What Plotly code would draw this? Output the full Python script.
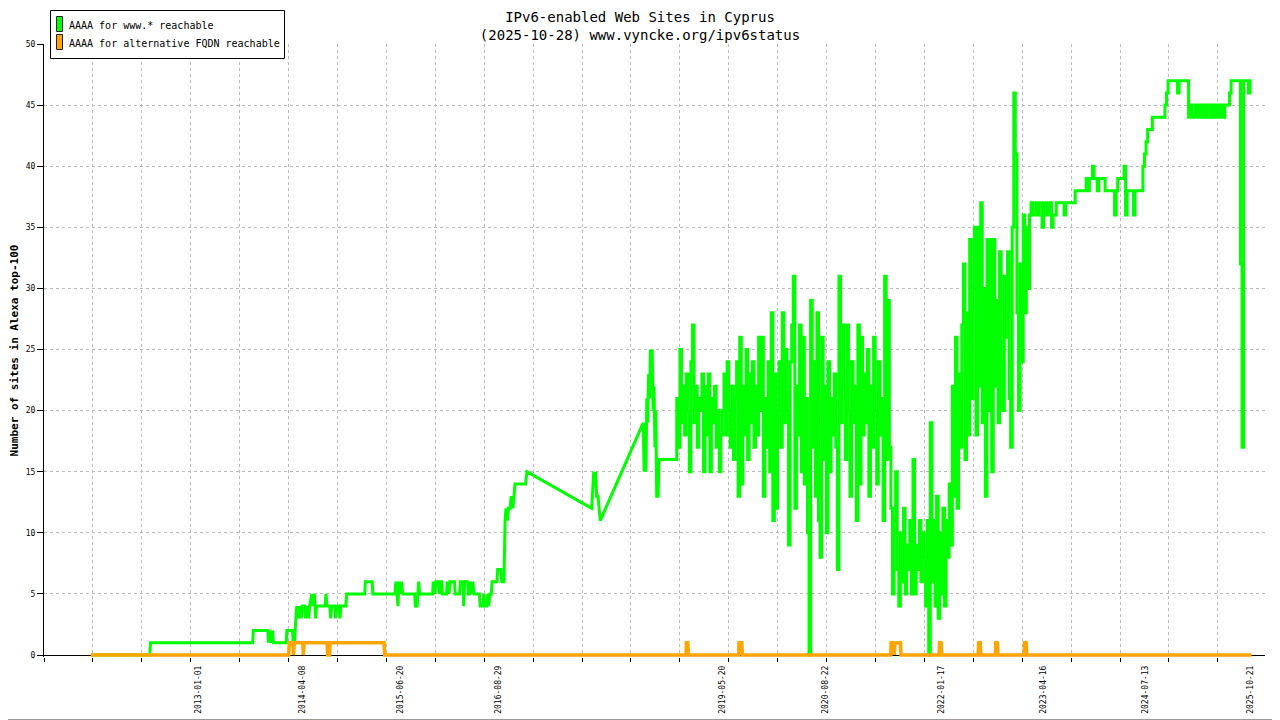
import pandas as pd
import plotly.graph_objects as go

# ---------------- data ----------------
title_line1 = "IPv6-enabled Web Sites in Cyprus"
title_line2 = "(2025-10-28) www.vyncke.org/ipv6status"
y_title = "Number of sites in Alexa top-100"
series_names = ["AAAA for www.* reachable", "AAAA for alternative FQDN reachable"]

x_label_dates = ["2013-01-01", "2014-04-08", "2015-06-20", "2016-08-29", "2019-05-20",
                 "2020-08-22", "2022-01-17", "2023-04-16", "2024-07-13", "2025-10-21"]
y_ticks = [0, 5, 10, 15, 20, 25, 30, 35, 40, 45, 50]

# www.* series, early irregular samples
www_early_dates = [
    "2011-09-13", "2012-06-01", "2012-06-04", "2013-09-01", "2013-09-04", "2013-11-08",
    "2013-11-10", "2013-11-17", "2013-11-21", "2013-11-28", "2013-12-03", "2014-01-28",
    "2014-01-31", "2014-02-25", "2014-02-28", "2014-03-06", "2014-03-12", "2014-03-16",
    "2014-03-22", "2014-03-28", "2014-04-05", "2014-04-10", "2014-04-20", "2014-04-24",
    "2014-04-30", "2014-05-08", "2014-05-12", "2014-05-22", "2014-05-28", "2014-06-02",
    "2014-06-08", "2014-06-12", "2014-07-20", "2014-07-24", "2014-07-28", "2014-08-10",
    "2014-08-14", "2014-08-18", "2014-09-01", "2014-09-05", "2014-09-10", "2014-09-20",
    "2014-09-24", "2014-09-28", "2014-10-20", "2014-10-24", "2015-01-12", "2015-01-15",
    "2015-02-14", "2015-02-17", "2015-05-27", "2015-05-30", "2015-06-05", "2015-06-09",
    "2015-06-13", "2015-06-20", "2015-06-24", "2015-06-30", "2015-08-22", "2015-08-25",
    "2015-09-02", "2015-09-05", "2015-09-09", "2015-09-13", "2015-11-10", "2015-11-13",
    "2015-11-20", "2015-11-24", "2015-12-05", "2015-12-09", "2015-12-13", "2015-12-20",
    "2015-12-23", "2016-01-11", "2016-01-14", "2016-01-22", "2016-01-26", "2016-02-15",
    "2016-02-18", "2016-03-09", "2016-03-12", "2016-03-24", "2016-03-27", "2016-03-31",
    "2016-04-14", "2016-04-17", "2016-04-24", "2016-04-26", "2016-05-02", "2016-05-06",
    "2016-05-12", "2016-06-05", "2016-06-08", "2016-06-20", "2016-06-24", "2016-06-28",
    "2016-07-08", "2016-07-12", "2016-07-16", "2016-07-22", "2016-07-28", "2016-07-31",
    "2016-08-22", "2016-08-25", "2016-09-08", "2016-09-12", "2016-09-22", "2016-09-27",
    "2016-10-01", "2016-10-08", "2016-10-12", "2016-10-20", "2016-10-24", "2016-11-01",
    "2016-11-05", "2016-11-10", "2016-12-27", "2017-01-02", "2017-10-17", "2017-10-22",
    "2017-10-26", "2017-10-30", "2017-11-03", "2017-11-08", "2017-11-14", "2017-11-24",
    "2018-06-03", "2018-06-07", "2018-06-11", "2018-06-15", "2018-06-19", "2018-06-23",
    "2018-06-27", "2018-07-01", "2018-07-05", "2018-07-09", "2018-07-13", "2018-07-17",
    "2018-07-21", "2018-07-25", "2018-07-29", "2018-08-02", "2018-08-08", "2018-08-12",
    "2018-10-26"]
www_early_values = [
    0, 0, 1, 1, 2, 2,
    1, 2, 1, 2, 1, 1,
    2, 2, 1, 1, 3, 4,
    3, 4, 3, 4, 4, 3,
    4, 3, 4, 5, 4, 5,
    3, 4, 4, 5, 4, 4,
    3, 4, 4, 3, 4, 4,
    3, 4, 4, 5, 5, 6,
    6, 5, 5, 6, 5, 4,
    6, 5, 6, 5, 5, 4,
    4, 5, 6, 5, 5, 6,
    5, 6, 6, 5, 6, 6,
    5, 5, 6, 5, 6, 6,
    5, 5, 6, 6, 4, 6,
    6, 5, 5, 6, 5, 6,
    5, 5, 4, 4, 5, 4,
    4, 5, 4, 5, 5, 6,
    6, 7, 7, 6, 6, 11,
    12, 11, 12, 12, 13, 12,
    13, 14, 14, 15, 12, 14,
    15, 14, 15, 13, 13, 11,
    19, 15, 19, 15, 21, 19,
    23, 21, 25, 22, 25, 20,
    22, 17, 20, 13, 13, 16,
    16]

# www.* series, weekly samples from 2018-10-30 to 2025-10-28
www_weekly_start = "2018-10-30"
www_weekly_values = [
    21, 17, 25, 19, 22, 18, 23, 20, 15, 24,
    27, 19, 22, 17, 21, 20, 23, 15, 22, 18,
    23, 15, 21, 19, 22, 17, 20, 15, 18, 20,
    23, 18, 24, 20, 17, 22, 16, 21, 24, 13,
    26, 14, 22, 18, 25, 16, 23, 19, 24, 17,
    22, 18, 26, 20, 26, 13, 21, 17, 24, 15,
    28, 11, 23, 12, 20, 24, 17, 28, 19, 25,
    20, 9, 24, 27, 31, 12, 22, 18, 27, 15,
    26, 14, 21, 10, 0, 29, 17, 24, 13, 28,
    11, 8, 26, 16, 22, 10, 24, 15, 21, 18,
    23, 17, 7, 31, 19, 27, 22, 16, 27, 20,
    13, 24, 19, 22, 11, 27, 14, 26, 18, 23,
    19, 25, 13, 22, 17, 26, 20, 14, 24, 18,
    21, 11, 31, 16, 29, 17, 12, 5, 11, 15,
    7, 4, 10, 6, 12, 5, 9, 7, 11, 5,
    16, 5, 9, 7, 11, 6, 10, 8, 4, 11,
    0, 19, 6, 11, 4, 13, 3, 10, 5, 12,
    4, 11, 8, 14, 9, 22, 13, 26, 12, 23,
    17, 27, 32, 16, 28, 18, 34, 21, 30, 35,
    18, 35, 22, 37, 19, 30, 13, 34, 20, 34,
    15, 34, 22, 29, 19, 33, 24, 20, 31, 26,
    33, 21, 17, 35, 46, 41, 28, 20, 32, 24,
    36, 28, 35, 30, 36, 37, 36, 36, 37, 36,
    37, 37, 35, 37, 37, 36, 37, 37, 35,
    36, 36, 37, 37, 37, 37,
    37, 36, 37, 37, 37,
    37, 37, 37, 38, 38,
    38, 38, 38, 38, 38,
    39, 38, 39, 39, 40,
    39, 39, 38, 39, 39,
    39, 39, 38, 38, 38,
    38, 38, 38, 36, 38,
    39, 39, 39, 39, 40,
    36, 38, 38, 38, 38,
    36, 38, 38, 38, 38,
    38, 40, 41, 42, 43,
    43, 43, 44, 44, 44,
    44, 44, 44, 44, 44,
    45, 46, 47, 47, 47,
    47, 47, 47, 46, 47,
    47, 47, 47, 47, 47,
    44, 45, 44, 44, 45,
    44, 45, 44, 45, 44,
    45, 44, 45, 45, 44,
    45, 44, 45, 44, 45,
    44, 45, 44, 45, 45,
    45, 46, 47, 47, 47,
    47, 47, 47, 32, 17,
    47, 47, 47, 46, 47, 47]

# alternative FQDN series
alt_dates = [
    "2011-09-13", "2014-02-08", "2014-02-11", "2014-02-27", "2014-03-01", "2014-03-05",
    "2014-04-12", "2014-04-14", "2014-04-18", "2014-07-29", "2014-07-31", "2014-08-09",
    "2014-08-11", "2015-04-08", "2015-04-11", "2018-12-10", "2018-12-12", "2018-12-18",
    "2018-12-21", "2019-08-01", "2019-08-03", "2019-08-15", "2019-08-18", "2021-06-07",
    "2021-06-09", "2021-06-20", "2021-06-23", "2021-06-26", "2021-07-20", "2021-07-23",
    "2022-01-08", "2022-01-10", "2022-01-17", "2022-01-20", "2022-07-01", "2022-07-03",
    "2022-07-10", "2022-07-13", "2022-09-15", "2022-09-17", "2022-09-24", "2022-09-27",
    "2023-01-21", "2023-01-23", "2023-01-30", "2023-02-02", "2025-10-28"]
alt_values = [
    0, 0, 1, 1, 0, 1,
    1, 0, 1, 1, 0, 0,
    1, 1, 0, 0, 1, 1,
    0, 0, 1, 1, 0, 0,
    1, 1, 0, 1, 1, 0,
    0, 1, 1, 0, 0, 1,
    1, 0, 0, 1, 1, 0,
    0, 1, 1, 0, 0]

# ---------------- build ----------------
weekly_dates = pd.date_range(www_weekly_start, periods=len(www_weekly_values), freq="7D")
early_x = pd.to_datetime(www_early_dates)
weekly_x = [early_x[-1]] + list(weekly_dates)
weekly_y = [www_early_values[-1]] + www_weekly_values
alt_x = pd.to_datetime(alt_dates)

GREEN = "#00ff00"
ORANGE = "#ffa500"
MONO = "DejaVu Sans Mono"
x_range = ["2011-02-16 12:00", "2025-12-26 18:00"]
grid_step_ms = 217.4 * 86400000

# layout geometry (pixels); the page shows the figure offset by the body margin
OFF = 8
W, H = 1280 - OFF, 720 - OFF
ML, MR, MT, MB = 44 - OFF, 15, 44 - OFF, 63
PW, PH = W - ML - MR, H - MT - MB
Y_UNIT_PX = 611 / 50.0
y_range = [-(PH - 611) / Y_UNIT_PX, 50]


def px(x):
    return (x - OFF - ML) / PW


def py(y):
    return (H - MB - (y - OFF)) / PH


fig = go.Figure()
fig.add_trace(go.Scatter(x=early_x, y=www_early_values, mode="lines",
                         line=dict(color=GREEN, width=3), hoverinfo="skip"))
fig.add_trace(go.Scatter(x=weekly_x, y=weekly_y, mode="lines",
                         line=dict(color=GREEN, width=3, shape="hv"), hoverinfo="skip"))
fig.add_trace(go.Scatter(x=alt_x, y=alt_values, mode="lines",
                         line=dict(color=ORANGE, width=3.5), hoverinfo="skip"))
# carrier for the label axis
fig.add_trace(go.Scatter(x=[None], y=[None], xaxis="x2", hoverinfo="skip"))

shapes = [
    # outer frame (right and bottom edges fall inside the figure)
    dict(type="line", xref="paper", yref="paper", x0=px(1279.5), x1=px(1279.5),
         y0=py(719.5), y1=py(OFF), line=dict(color="#999999", width=1)),
    dict(type="line", xref="paper", yref="paper", x0=px(OFF), x1=px(1279.5),
         y0=py(719.5), y1=py(719.5), line=dict(color="#999999", width=1)),
    # legend box
    dict(type="rect", xref="paper", yref="paper", x0=px(50.5), x1=px(284.5),
         y0=py(58.5), y1=py(10.5), line=dict(color="black", width=1), fillcolor="white"),
]
annotations = []
for i, (name, col) in enumerate(zip(series_names, [GREEN, ORANGE])):
    top = 16.5 + 18 * i
    shapes.append(dict(type="rect", xref="paper", yref="paper", x0=px(56.5), x1=px(62.5),
                       y0=py(top + 15), y1=py(top), line=dict(color="#222222", width=1),
                       fillcolor=col))
    annotations.append(dict(text=name, xref="paper", yref="paper", x=px(67), y=py(25 + 18 * i),
                            xanchor="left", yanchor="middle", showarrow=False,
                            font=dict(family=MONO, size=10, color="black")))

fig.update_layout(
    width=W, height=H, showlegend=False,
    margin=dict(l=ML, r=MR, t=MT, b=MB, autoexpand=False),
    paper_bgcolor="white", plot_bgcolor="white",
    font=dict(family=MONO, size=9, color="black"),
    title=dict(text=title_line1 + "<br>" + title_line2, x=0.5 - OFF / 2 / W, xref="container",
               xanchor="center", y=1 - 14 / H, yref="container", yanchor="top",
               font=dict(family=MONO, size=14, color="black")),
    xaxis=dict(type="date", range=x_range, tick0=x_range[0], dtick=grid_step_ms,
               tickmode="linear", showticklabels=False, ticks="outside", ticklen=4,
               tickcolor="black", showgrid=True, gridcolor="#bbbbbb", griddash="dot",
               gridwidth=1, showline=False, zeroline=False, layer="below traces",
               automargin=False),
    xaxis2=dict(type="date", range=x_range, overlaying="x", anchor="y", side="bottom",
                tickmode="array", tickvals=x_label_dates, ticktext=x_label_dates,
                tickangle=-90, ticks="", showgrid=False, showline=False, zeroline=False,
                ticklabelstandoff=6, automargin=False,
                tickfont=dict(family=MONO, size=8, color="black")),
    yaxis=dict(range=y_range, tickmode="array", tickvals=y_ticks,
               ticktext=[str(v) for v in y_ticks], ticks="outside", ticklen=6,
               tickcolor="black", showgrid=True, gridcolor="#bbbbbb", griddash="dot",
               showline=True, linecolor="black", linewidth=1,
               zeroline=True, zerolinecolor="black", zerolinewidth=1,
               layer="below traces", automargin=False,
               tickfont=dict(family=MONO, size=8, color="black"),
               title=dict(text="<b>" + y_title + "</b>", standoff=6,
                          font=dict(family=MONO, size=11, color="black"))),
    shapes=shapes,
    annotations=annotations,
)

fig.write_html("out.html")
